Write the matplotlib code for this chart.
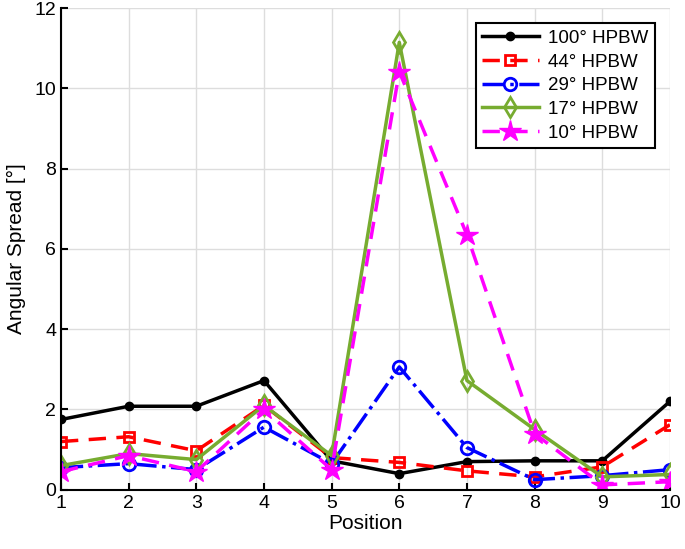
import numpy as np
import matplotlib.pyplot as plt

plt.rcParams["font.family"] = ["Liberation Sans", "DejaVu Sans"]

position = [1, 2, 3, 4, 5, 6, 7, 8, 9, 10]
hpbw_100 = [1.75, 2.08, 2.08, 2.72, 0.72, 0.4, 0.7, 0.72, 0.72, 2.2]
hpbw_44 = [1.2, 1.32, 0.97, 2.1, 0.8, 0.68, 0.47, 0.32, 0.57, 1.62]
hpbw_29 = [0.55, 0.65, 0.5, 1.56, 0.65, 3.06, 1.05, 0.25, 0.35, 0.5]
hpbw_17 = [0.6, 0.9, 0.75, 2.1, 0.85, 11.15, 2.72, 1.5, 0.32, 0.38]
hpbw_10 = [0.45, 0.85, 0.45, 2.0, 0.5, 10.42, 6.35, 1.4, 0.12, 0.2]

fig, ax = plt.subplots(figsize=(6.85, 5.49), dpi=100)

ax.plot(position, hpbw_100, color="black", linestyle="-", linewidth=2.5,
        marker="o", markersize=6, label="100° HPBW")
ax.plot(position, hpbw_44, color="red", linestyle="--", dashes=(5, 3), linewidth=2.5,
        marker="s", markersize=7, markerfacecolor="none", markeredgewidth=2, label="44° HPBW")
ax.plot(position, hpbw_29, color="blue", linestyle="-.", linewidth=2.5,
        marker="o", markersize=9, markerfacecolor="none", markeredgewidth=2, label="29° HPBW")
ax.plot(position, hpbw_17, color="#77AC30", linestyle="-", linewidth=2.5,
        marker="d", markersize=10, markerfacecolor="none", markeredgewidth=2, label="17° HPBW")
ax.plot(position, hpbw_10, color="magenta", linestyle="--", dashes=(5, 3), linewidth=2.5,
        marker="*", markersize=16, label="10° HPBW")

ax.set_xlim(1, 10)
ax.set_ylim(0, 12)
ax.set_xticks(position)
ax.set_yticks(np.arange(0, 13, 2))
ax.grid(True, color="#dddddd", linewidth=1)
ax.set_axisbelow(True)
ax.tick_params(direction="in", labelsize=14, width=1.5, length=5)
for s in ["top", "right"]:
    ax.spines[s].set_visible(False)
for s in ["left", "bottom"]:
    ax.spines[s].set_linewidth(1.5)

ax.set_xlabel("Position", fontsize=15, labelpad=2)
ax.set_ylabel("Angular Spread [°]", fontsize=15, labelpad=6)

leg = ax.legend(loc="upper right", fontsize=13.5, fancybox=False, framealpha=1,
                edgecolor="black", handlelength=3, borderaxespad=0.8,
                labelspacing=0.35, borderpad=0.35, handletextpad=0.5)
leg.get_frame().set_linewidth(1.5)

fig.subplots_adjust(left=0.089, right=0.978, top=0.985, bottom=0.108)
fig.savefig("out.png")
